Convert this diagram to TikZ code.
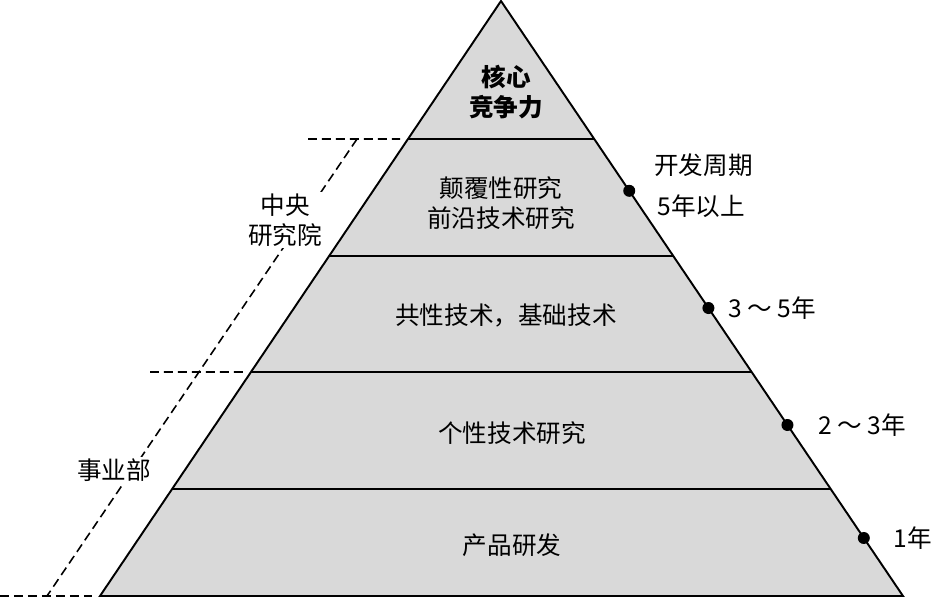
\documentclass[tikz,border=0pt]{standalone}
\usepackage{fontspec}
\setmainfont{Noto Sans CJK SC}
\usetikzlibrary{calc}
\tikzset{
  font=\fontsize{14}{17}\selectfont,            % one size for all text
  layer/.style    = {align=center, inner sep=1pt},
  core/.style     = {layer, font=\fontsize{14}{17}\selectfont\bfseries},
  dept/.style     = {fill=white, inner sep=1pt, align=center},
  cycdot/.style   = {circle, fill=black, inner sep=0pt, minimum size=0.24cm},
  cyclabel/.style = {anchor=west, inner sep=0pt},
  sep/.style      = {line width=1.1pt},
  guide/.style    = {line width=0.9pt, dash pattern=on 0.18cm off 0.1cm}
}
\begin{document}
\begin{tikzpicture}[x=0.02cm, y=-0.02cm]
  \useasboundingbox (0,0) rectangle (948,609);
  % pyramid
  \coordinate (apex) at (501,1);
  \coordinate (bl) at (100,596);
  \coordinate (br) at (903,596);
  \fill[gray!30] (apex) -- (bl) -- (br) -- cycle;
  \foreach \t/\n in {0.2319/1, 0.4286/2, 0.6235/3, 0.8202/4}
    \draw[sep] ($(apex)!\t!(bl)$) coordinate (l\n) -- ($(apex)!\t!(br)$) coordinate (r\n);
  \draw[sep, line join=miter] (apex) -- (bl) -- (br) -- cycle;
  % left guides
  \coordinate (topcut) at (308,139);
  \coordinate (midcut) at (150,372);
  \coordinate (lowcut) at (0,596);
  \coordinate (gtop) at (357,139);
  \coordinate (gbot) at (47,596);
  \draw[guide] (topcut) -- ($(l1)+(-8,0)$);
  \draw[guide] (midcut) -- ($(l3)+(-8,0)$);
  \draw[guide] (lowcut) -- ($(bl)+(-8,0)$);
  \draw[guide] (gtop) -- (gbot);
  \node[dept] (center) at (285,220) {中央\\研究院};
  \node[dept] (division) at (114,470) {事业部};
  % layers
  \node[core]  (compete) at (506,92)  {核心\\竞争力};
  \node[layer] (disrupt) at (501,203) {颠覆性研究\\前沿技术研究};
  \node[layer] (generic) at (506,315) {共性技术，基础技术};
  \node[layer] (specific) at (512,433) {个性技术研究};
  \node[layer] (product) at (512,545) {产品研发};
  % development cycle
  \node[cycdot] (d1) at ($(apex)!0.319!(br)$) {};
  \node[cycdot] (d2) at ($(apex)!0.516!(br)$) {};
  \node[cycdot] (d3) at ($(apex)!0.7126!(br)$) {};
  \node[cycdot] (d4) at ($(apex)!0.9025!(br)$) {};
  \node[cyclabel] (cyctitle) at (654,165) {开发周期};
  \node[cyclabel] (c1) at (657,206) {5年以上};
  \node[cyclabel] (c2) at (728,308) {3 ～ 5年};
  \node[cyclabel] (c3) at (818,425) {2 ～ 3年};
  \node[cyclabel] (c4) at (893,538) {1年};
\end{tikzpicture}
\end{document}
